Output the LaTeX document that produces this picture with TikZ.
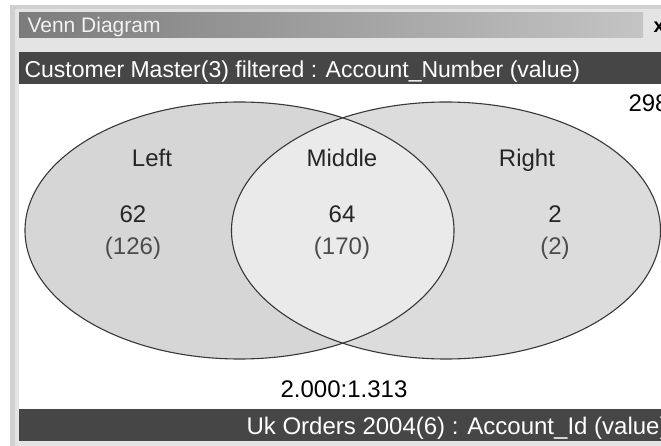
\documentclass[tikz,border=0pt]{standalone}
\usepackage{fontspec}
\setmainfont{Liberation Sans}
\usepackage{xcolor}

\definecolor{panelgray}{HTML}{E4E4E4}
\definecolor{framegray}{HTML}{D0D0D0}
\definecolor{bardark}{HTML}{464646}
\definecolor{titledark}{HTML}{7C7C7C}
\definecolor{titlelight}{HTML}{C4C4C4}
\definecolor{leftfill}{HTML}{D6D6D6}
\definecolor{rightfill}{HTML}{DCDCDC}
\definecolor{midfill}{HTML}{EAEAEA}
\definecolor{rimgray}{HTML}{383838}

\tikzset{
  big/.style={font=\fontsize{24}{29}\selectfont},
  setlabel/.style={big, anchor=base, text=black!85},
  countlabel/.style={big, anchor=base, text=black!85},
  totallabel/.style={big, anchor=base, text=black!70},
  barlabel/.style={big, anchor=base west, text=white},
  rim/.style={draw=rimgray, line width=1.1pt}
}

\begin{document}
\begin{tikzpicture}[x=1pt, y=-1pt]
			% frame
			\useasboundingbox (0,0) rectangle (661,446);
			\clip (0,0) rectangle (661,446);
			\fill[white] (0,0) rectangle (661,446);
			\fill[framegray] (10,5) rectangle (661,446);
			\fill[panelgray] (15,9) rectangle (661,446);
			
			% title bar
			\shade[left color=titledark, right color=titlelight] (19,13) rectangle (643,38);
			\node[font=\fontsize{21}{25}\selectfont, anchor=base west, text=white!95!black] (title) at (24,33) {Venn Diagram};
			\node[font=\bfseries\fontsize{20}{24}\selectfont, anchor=base west] (close) at (650,33) {x};
			
			% white area and bars
			\fill[white] (19,84) rectangle (661,409);
			\fill[bardark] (19,52) rectangle (661,84);
			\fill[bardark] (19,409) rectangle (661,441);
			\node[barlabel, font=\fontsize{23}{28}\selectfont] (top) at (21,78) {Customer Master(3) filtered : Account\_Number (value)};
			\node[barlabel] (bottom) at (243,434) {Uk Orders 2004(6) : Account\_Id (value)};
			
			% venn
			\fill[leftfill] (239.5,230.5) ellipse (214.5 and 128.5);
			\fill[rightfill] (446,230.5) ellipse (214.5 and 128.5);
			\begin{scope}
				\clip (239.5,230.5) ellipse (214.5 and 128.5);
				\fill[midfill] (446,230.5) ellipse (214.5 and 128.5);
			\end{scope}
			\draw[rim] (239.5,230.5) ellipse (214.5 and 128.5);
			\draw[rim] (446,230.5) ellipse (214.5 and 128.5);
			
			% labels
			\node[setlabel] (left) at (152,167) {Left};
			\node[setlabel] (middle) at (342,167) {Middle};
			\node[setlabel] (right) at (527,167) {Right};
			
			\node[countlabel] (leftn) at (133,223) {62};
			\node[countlabel] (middlen) at (342,223) {64};
			\node[countlabel] (rightn) at (555,223) {2};
			\node[totallabel] (leftt) at (133,255) {(126)};
			\node[totallabel] (middlet) at (342,255) {(170)};
			\node[totallabel] (rightt) at (555,255) {(2)};
			
			\node[big, anchor=base west] (outside) at (625,112) {298};
			\node[big, anchor=base] (ratio) at (344,397) {2.000:1.313};
			
		\end{tikzpicture}
\end{document}
